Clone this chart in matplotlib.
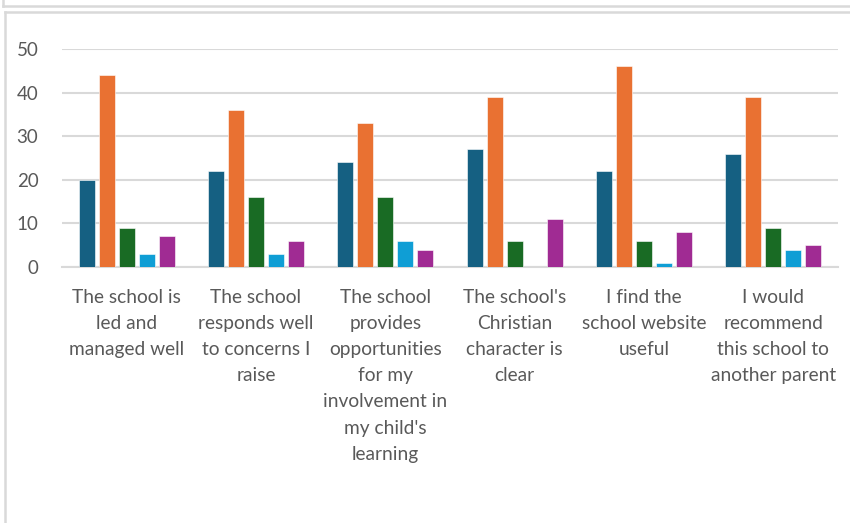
import matplotlib.pyplot as plt
import numpy as np

categories = [
    "The school is\nled and\nmanaged well",
    "The school\nresponds well\nto concerns I\nraise",
    "The school\nprovides\nopportunities\nfor my\ninvolvement in\nmy child's\nlearning",
    "The school's\nChristian\ncharacter is\nclear",
    "I find the\nschool website\nuseful",
    "I would\nrecommend\nthis school to\nanother parent",
]
series_1 = [20, 22, 24, 27, 22, 26]
series_2 = [44, 36, 33, 39, 46, 39]
series_3 = [9, 16, 16, 6, 6, 9]
series_4 = [3, 3, 6, 0, 1, 4]
series_5 = [7, 6, 4, 11, 8, 5]
yticks = [0, 10, 20, 30, 40, 50]

colors = ["#156082", "#E97132", "#196B24", "#0F9ED5", "#A02B93"]
grey = "#595959"

plt.rcParams["font.family"] = ["Lato", "DejaVu Sans"]

fig = plt.figure(figsize=(8.5, 5.23), dpi=100)

# frame lines of the surrounding boxes
fig.add_artist(plt.Line2D([3 / 850, 1], [1 - 6 / 523, 1 - 6 / 523], color="#d9d9d9", lw=1.8))
fig.add_artist(plt.Line2D([3 / 850, 3 / 850], [1, 1 - 6 / 523], color="#d9d9d9", lw=1.8))
fig.add_artist(plt.Line2D([5 / 850, 1], [1 - 12 / 523, 1 - 12 / 523], color="#d9d9d9", lw=1.8))
fig.add_artist(plt.Line2D([5 / 850, 5 / 850], [0, 1 - 12 / 523], color="#d9d9d9", lw=1.8))

ax = fig.add_axes([62 / 850, 256 / 523, 776 / 850, 218 / 523])

x = np.arange(len(categories))
step = 0.155
width = 0.124
all_series = [series_1, series_2, series_3, series_4, series_5]
for i, vals in enumerate(all_series):
    ax.bar(x + (i - 2) * step, vals, width, color=colors[i], edgecolor="white", linewidth=0.4, zorder=3)

ax.set_xlim(-0.5, len(categories) - 0.5)
ax.set_ylim(0, 50)
ax.set_yticks(yticks)
ax.yaxis.grid(True, color="#d9d9d9", lw=1.5, zorder=0)
for s in ["top", "right", "left"]:
    ax.spines[s].set_visible(False)
ax.spines["bottom"].set_color("#d9d9d9")
ax.spines["bottom"].set_linewidth(1.5)
ax.tick_params(axis="y", length=0, pad=17, labelsize=13.5, labelcolor=grey)
ax.tick_params(axis="x", length=0, pad=15.5)
ax.set_xticks(x)
ax.set_xticklabels(categories, fontsize=13.8, color=grey, linespacing=1.66, va="top")

fig.savefig("out.png", dpi=100)
